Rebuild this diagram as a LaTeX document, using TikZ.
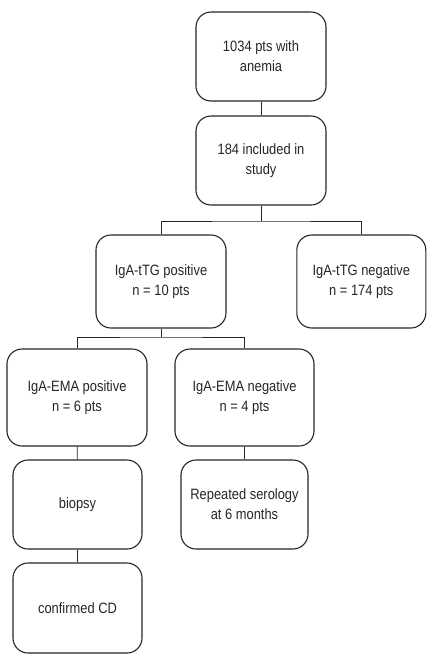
\documentclass[tikz,border=0pt]{standalone}
\usepackage{fontspec}
\setmainfont[FakeStretch=0.86]{Liberation Sans}
\begin{document}
\begin{tikzpicture}[x=1pt,y=-1pt,
  box/.style={draw=black!85, line width=1.1pt, rounded corners=15pt, align=center,
    inner sep=0pt, font=\fontsize{15}{20}\selectfont, text=black!85},
  conn/.style={draw=black!85, line width=0.9pt}]
\useasboundingbox (0,0) rectangle (433,662);
\node[box, minimum width=130pt, minimum height=89pt] (b1) at (261,56.5) {1034 pts with\\anemia};
\node[box, minimum width=130pt, minimum height=89pt] (b2) at (261,160.5) {184 included in\\study};
\node[box, minimum width=130pt, minimum height=93pt] (b3) at (161,281.5) {IgA-tTG positive\\n = 10 pts};
\node[box, minimum width=129pt, minimum height=93pt] (b4) at (361.3,281.5) {IgA-tTG negative\\n = 174 pts};
\node[box, minimum width=140pt, minimum height=97pt] (b5) at (77,397.5) {IgA-EMA positive\\n = 6 pts};
\node[box, minimum width=139pt, minimum height=97pt] (b6) at (244.5,397.5) {IgA-EMA negative\\n = 4 pts};
\node[box, minimum width=129pt, minimum height=89pt] (b7) at (77.5,504.5) {biopsy};
\node[box, minimum width=127pt, minimum height=89pt] (b8) at (244.5,504.5) {Repeated serology\\at 6 months};
\node[box, minimum width=129pt, minimum height=90pt] (b9) at (77.5,608) {confirmed CD};
\coordinate (j1) at (261,221);
\coordinate (j2) at (161,337);
\draw[conn] (b1) -- (b2);
\draw[conn] (b2.south) -- (j1);
\draw[conn] (b3.north) |- (j1) -| (b4.north);
\draw[conn] (b3.south) -- (j2);
\draw[conn] (b5.north) |- (j2) -| (b6.north);
\draw[conn] (b5) -- (b7);
\draw[conn] (b7) -- (b9);
\draw[conn] (b6) -- (b8);
\end{tikzpicture}
\end{document}
